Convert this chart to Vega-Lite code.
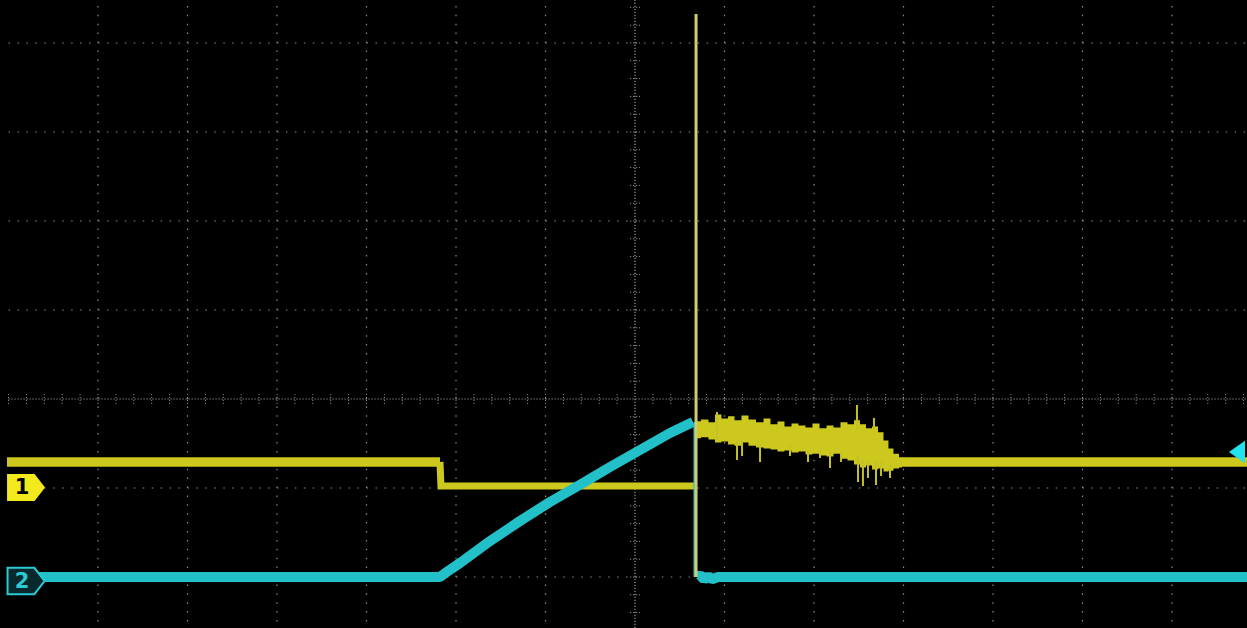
{
  "$schema": "https://vega.github.io/schema/vega-lite/v6.json",
  "width": 1247,
  "height": 628,
  "autosize": {"type": "none"},
  "padding": 0,
  "background": "#000000",
  "config": {"view": {"stroke": null}, "axis": {"disable": true}},
  "datasets": {
    "grid_v": [{"x": -6}, {"x": -5}, {"x": -4}, {"x": -3}, {"x": -2}, {"x": -1}, {"x": 1}, {"x": 2}, {"x": 3}, {"x": 4}, {"x": 5}, {"x": 6}],
    "grid_h": [{"y": -2}, {"y": -1}, {"y": 1}, {"y": 2}, {"y": 3}, {"y": 4}],
    "center": [{"x": 0, "y": 0}],
    "ticks_x": [{"x": -7.0}, {"x": -6.8}, {"x": -6.6}, {"x": -6.4}, {"x": -6.2}, {"x": -6.0}, {"x": -5.8}, {"x": -5.6}, {"x": -5.4}, {"x": -5.2}, {"x": -5.0}, {"x": -4.8}, {"x": -4.6}, {"x": -4.4}, {"x": -4.2}, {"x": -4.0}, {"x": -3.8}, {"x": -3.6}, {"x": -3.4}, {"x": -3.2}, {"x": -3.0}, {"x": -2.8}, {"x": -2.6}, {"x": -2.4}, {"x": -2.2}, {"x": -2.0}, {"x": -1.8}, {"x": -1.6}, {"x": -1.4}, {"x": -1.2}, {"x": -1.0}, {"x": -0.8}, {"x": -0.6}, {"x": -0.4}, {"x": -0.2}, {"x": 0.2}, {"x": 0.4}, {"x": 0.6}, {"x": 0.8}, {"x": 1.0}, {"x": 1.2}, {"x": 1.4}, {"x": 1.6}, {"x": 1.8}, {"x": 2.0}, {"x": 2.2}, {"x": 2.4}, {"x": 2.6}, {"x": 2.8}, {"x": 3.0}, {"x": 3.2}, {"x": 3.4}, {"x": 3.6}, {"x": 3.8}, {"x": 4.0}, {"x": 4.2}, {"x": 4.4}, {"x": 4.6}, {"x": 4.8}, {"x": 5.0}, {"x": 5.2}, {"x": 5.4}, {"x": 5.6}, {"x": 5.8}, {"x": 6.0}, {"x": 6.2}, {"x": 6.4}, {"x": 6.6}, {"x": 6.8}],
    "ticks_y": [{"y": -2.4}, {"y": -2.2}, {"y": -2.0}, {"y": -1.8}, {"y": -1.6}, {"y": -1.4}, {"y": -1.2}, {"y": -1.0}, {"y": -0.8}, {"y": -0.6}, {"y": -0.4}, {"y": -0.2}, {"y": 0.2}, {"y": 0.4}, {"y": 0.6}, {"y": 0.8}, {"y": 1.0}, {"y": 1.2}, {"y": 1.4}, {"y": 1.6}, {"y": 1.8}, {"y": 2.0}, {"y": 2.2}, {"y": 2.4}, {"y": 2.6}, {"y": 2.8}, {"y": 3.0}, {"y": 3.2}, {"y": 3.4}, {"y": 3.6}, {"y": 3.8}, {"y": 4.0}, {"y": 4.2}, {"y": 4.4}],
    "ch1_outer": [
      {"seg": "a", "x": -7.017, "y": -0.708},
      {"seg": "a", "x": -2.179, "y": -0.708},
      {"seg": "b", "x": 2.983, "y": -0.708},
      {"seg": "b", "x": 6.838, "y": -0.708}
    ],
    "ch1_mid": [
      {"x": -2.179, "y": -0.708},
      {"x": -2.168, "y": -0.978},
      {"x": 0.659, "y": -0.978}
    ],
    "ch1_band": [
      {"x": 0.693, "top": -0.250, "bot": -0.440},
      {"x": 0.782, "top": -0.230, "bot": -0.430},
      {"x": 0.860, "top": -0.262, "bot": -0.455},
      {"x": 0.927, "top": -0.175, "bot": -0.490},
      {"x": 1.006, "top": -0.218, "bot": -0.478},
      {"x": 1.073, "top": -0.195, "bot": -0.512},
      {"x": 1.151, "top": -0.240, "bot": -0.525},
      {"x": 1.229, "top": -0.185, "bot": -0.490},
      {"x": 1.307, "top": -0.230, "bot": -0.525},
      {"x": 1.397, "top": -0.262, "bot": -0.545},
      {"x": 1.475, "top": -0.218, "bot": -0.556},
      {"x": 1.553, "top": -0.285, "bot": -0.568},
      {"x": 1.631, "top": -0.252, "bot": -0.590},
      {"x": 1.709, "top": -0.308, "bot": -0.580},
      {"x": 1.788, "top": -0.275, "bot": -0.600},
      {"x": 1.866, "top": -0.297, "bot": -0.590},
      {"x": 1.944, "top": -0.320, "bot": -0.625},
      {"x": 2.022, "top": -0.275, "bot": -0.614},
      {"x": 2.101, "top": -0.330, "bot": -0.636},
      {"x": 2.179, "top": -0.297, "bot": -0.647},
      {"x": 2.257, "top": -0.320, "bot": -0.614},
      {"x": 2.335, "top": -0.262, "bot": -0.670},
      {"x": 2.413, "top": -0.285, "bot": -0.692},
      {"x": 2.480, "top": -0.240, "bot": -0.737},
      {"x": 2.547, "top": -0.285, "bot": -0.771},
      {"x": 2.615, "top": -0.330, "bot": -0.748},
      {"x": 2.682, "top": -0.308, "bot": -0.793},
      {"x": 2.749, "top": -0.375, "bot": -0.782},
      {"x": 2.804, "top": -0.466, "bot": -0.815},
      {"x": 2.860, "top": -0.556, "bot": -0.805},
      {"x": 2.916, "top": -0.614, "bot": -0.782},
      {"x": 2.983, "top": -0.655, "bot": -0.770}
    ],
    "ch1_spikes": [
      {"x": 0.916, "top": -0.146, "bot": -0.461},
      {"x": 1.140, "top": -0.461, "bot": -0.685},
      {"x": 1.196, "top": -0.461, "bot": -0.640},
      {"x": 1.397, "top": -0.506, "bot": -0.708},
      {"x": 1.732, "top": -0.517, "bot": -0.640},
      {"x": 1.933, "top": -0.573, "bot": -0.708},
      {"x": 2.067, "top": -0.573, "bot": -0.663},
      {"x": 2.179, "top": -0.596, "bot": -0.775},
      {"x": 2.302, "top": -0.596, "bot": -0.708},
      {"x": 2.480, "top": -0.067, "bot": -0.348},
      {"x": 2.492, "top": -0.629, "bot": -0.933},
      {"x": 2.547, "top": -0.685, "bot": -0.978},
      {"x": 2.603, "top": -0.685, "bot": -0.888},
      {"x": 2.670, "top": -0.213, "bot": -0.348},
      {"x": 2.693, "top": -0.708, "bot": -0.966},
      {"x": 2.749, "top": -0.708, "bot": -0.865},
      {"x": 2.849, "top": -0.742, "bot": -0.888}
    ],
    "ch2": [
      {"seg": "a", "x": -7.017, "y": -2.0},
      {"seg": "a", "x": -2.179, "y": -2.0},
      {"seg": "a", "x": -2.089, "y": -1.933},
      {"seg": "a", "x": -1.955, "y": -1.843},
      {"seg": "a", "x": -1.620, "y": -1.596},
      {"seg": "a", "x": -1.285, "y": -1.371},
      {"seg": "a", "x": -0.950, "y": -1.157},
      {"seg": "a", "x": -0.581, "y": -0.944},
      {"seg": "a", "x": -0.279, "y": -0.764},
      {"seg": "a", "x": 0.056, "y": -0.573},
      {"seg": "a", "x": 0.391, "y": -0.382},
      {"seg": "a", "x": 0.648, "y": -0.258},
      {"seg": "b", "x": 0.693, "y": -2.0},
      {"seg": "b", "x": 0.726, "y": -1.975},
      {"seg": "b", "x": 0.771, "y": -2.03},
      {"seg": "b", "x": 0.816, "y": -1.99},
      {"seg": "b", "x": 0.860, "y": -2.025},
      {"seg": "b", "x": 0.927, "y": -2.0},
      {"seg": "b", "x": 6.838, "y": -2.0}
    ],
    "ch2_drop": [{"x": 0.670, "top": -0.258, "bot": -2.0}],
    "spike": [{"x": 0.682, "top": 4.326, "bot": -2.0}],
    "markers": [
      {"ch": "1", "x": -6.804, "y": -0.994, "tx": -6.849},
      {"ch": "2", "x": -6.804, "y": -2.045, "tx": -6.849}
    ],
    "trigger": [{"x": 6.726, "y": -0.596}]
  },
  "layer": [
    {
      "data": {"name": "grid_v"},
      "mark": {"type": "rule", "color": "#8a8a8a", "strokeWidth": 1.2, "strokeDash": [1.5, 7.4]},
      "encoding": {
        "x": {"field": "x", "type": "quantitative", "scale": {"domain": [-7.095, 6.838], "nice": false, "zero": false}},
        "y": {"datum": -2.5, "type": "quantitative", "scale": {"domain": [-2.573, 4.483], "nice": false, "zero": false}},
        "y2": {"datum": 4.48}
      }
    },
    {
      "data": {"name": "grid_h"},
      "mark": {"type": "rule", "color": "#8a8a8a", "strokeWidth": 1.2, "strokeDash": [1.5, 7.45]},
      "encoding": {
        "y": {"field": "y", "type": "quantitative", "scale": {"domain": [-2.573, 4.483], "nice": false, "zero": false}},
        "x": {"datum": -7.0, "type": "quantitative", "scale": {"domain": [-7.095, 6.838], "nice": false, "zero": false}},
        "x2": {"datum": 6.838}
      }
    },
    {
      "data": {"name": "center"},
      "mark": {"type": "rule", "color": "#9a9a9a", "strokeWidth": 1.2, "strokeDash": [1.2, 1.8]},
      "encoding": {
        "x": {"field": "x", "type": "quantitative", "scale": {"domain": [-7.095, 6.838], "nice": false, "zero": false}},
        "y": {"datum": -2.573, "type": "quantitative", "scale": {"domain": [-2.573, 4.483], "nice": false, "zero": false}},
        "y2": {"datum": 4.483}
      }
    },
    {
      "data": {"name": "center"},
      "mark": {"type": "rule", "color": "#9a9a9a", "strokeWidth": 1.2, "strokeDash": [1.2, 1.8]},
      "encoding": {
        "y": {"field": "y", "type": "quantitative", "scale": {"domain": [-2.573, 4.483], "nice": false, "zero": false}},
        "x": {"datum": -7.0, "type": "quantitative", "scale": {"domain": [-7.095, 6.838], "nice": false, "zero": false}},
        "x2": {"datum": 6.838}
      }
    },
    {
      "data": {"name": "ticks_x"},
      "mark": {"type": "rule", "color": "#8a8a8a", "strokeWidth": 1, "strokeDash": [1.2, 1.8]},
      "encoding": {
        "x": {"field": "x", "type": "quantitative", "scale": {"domain": [-7.095, 6.838], "nice": false, "zero": false}},
        "y": {"datum": -0.056, "type": "quantitative", "scale": {"domain": [-2.573, 4.483], "nice": false, "zero": false}},
        "y2": {"datum": 0.056}
      }
    },
    {
      "data": {"name": "ticks_y"},
      "mark": {"type": "rule", "color": "#8a8a8a", "strokeWidth": 1, "strokeDash": [1.2, 1.8]},
      "encoding": {
        "y": {"field": "y", "type": "quantitative", "scale": {"domain": [-2.573, 4.483], "nice": false, "zero": false}},
        "x": {"datum": -0.056, "type": "quantitative", "scale": {"domain": [-7.095, 6.838], "nice": false, "zero": false}},
        "x2": {"datum": 0.056}
      }
    },
    {
      "data": {"name": "ch1_outer"},
      "mark": {"type": "line", "color": "#ccc81e", "strokeWidth": 9.5, "strokeJoin": "miter", "strokeCap": "butt"},
      "encoding": {
        "x": {"field": "x", "type": "quantitative", "scale": {"domain": [-7.095, 6.838], "nice": false, "zero": false}},
        "y": {"field": "y", "type": "quantitative", "scale": {"domain": [-2.573, 4.483], "nice": false, "zero": false}},
        "detail": {"field": "seg"}
      }
    },
    {
      "data": {"name": "ch1_mid"},
      "mark": {"type": "line", "color": "#ccc81e", "strokeWidth": 7, "strokeJoin": "miter", "strokeCap": "butt"},
      "encoding": {
        "x": {"field": "x", "type": "quantitative", "scale": {"domain": [-7.095, 6.838], "nice": false, "zero": false}},
        "y": {"field": "y", "type": "quantitative", "scale": {"domain": [-2.573, 4.483], "nice": false, "zero": false}}
      }
    },
    {
      "data": {"name": "ch1_band"},
      "mark": {"type": "area", "color": "#ccc81e", "interpolate": "step", "opacity": 1},
      "encoding": {
        "x": {"field": "x", "type": "quantitative", "scale": {"domain": [-7.095, 6.838], "nice": false, "zero": false}},
        "y": {"field": "top", "type": "quantitative", "scale": {"domain": [-2.573, 4.483], "nice": false, "zero": false}},
        "y2": {"field": "bot"}
      }
    },
    {
      "data": {"name": "ch1_spikes"},
      "mark": {"type": "rule", "color": "#c4c02a", "strokeWidth": 2},
      "encoding": {
        "x": {"field": "x", "type": "quantitative", "scale": {"domain": [-7.095, 6.838], "nice": false, "zero": false}},
        "y": {"field": "top", "type": "quantitative", "scale": {"domain": [-2.573, 4.483], "nice": false, "zero": false}},
        "y2": {"field": "bot"}
      }
    },
    {
      "data": {"name": "ch2"},
      "mark": {"type": "line", "color": "#22c0c8", "strokeWidth": 10, "strokeJoin": "bevel", "strokeCap": "butt"},
      "encoding": {
        "x": {"field": "x", "type": "quantitative", "scale": {"domain": [-7.095, 6.838], "nice": false, "zero": false}},
        "y": {"field": "y", "type": "quantitative", "scale": {"domain": [-2.573, 4.483], "nice": false, "zero": false}},
        "detail": {"field": "seg"}
      }
    },
    {
      "data": {"name": "ch2_drop"},
      "mark": {"type": "rule", "color": "#22c0c8", "strokeWidth": 3},
      "encoding": {
        "x": {"field": "x", "type": "quantitative", "scale": {"domain": [-7.095, 6.838], "nice": false, "zero": false}},
        "y": {"field": "top", "type": "quantitative", "scale": {"domain": [-2.573, 4.483], "nice": false, "zero": false}},
        "y2": {"field": "bot"}
      }
    },
    {
      "data": {"name": "spike"},
      "mark": {"type": "rule", "color": "#d0cc72", "strokeWidth": 3},
      "encoding": {
        "x": {"field": "x", "type": "quantitative", "scale": {"domain": [-7.095, 6.838], "nice": false, "zero": false}},
        "y": {"field": "top", "type": "quantitative", "scale": {"domain": [-2.573, 4.483], "nice": false, "zero": false}},
        "y2": {"field": "bot"}
      }
    },
    {
      "data": {"name": "markers"},
      "transform": [{"filter": "datum.ch === '1'"}],
      "mark": {"type": "point", "filled": true, "opacity": 1, "fill": "#f2ea1c", "strokeWidth": 0, "size": 1444, "shape": "M-1,-0.71L0.45,-0.71L1,0L0.45,0.71L-1,0.71Z"},
      "encoding": {
        "x": {"field": "x", "type": "quantitative", "scale": {"domain": [-7.095, 6.838], "nice": false, "zero": false}},
        "y": {"field": "y", "type": "quantitative", "scale": {"domain": [-2.573, 4.483], "nice": false, "zero": false}}
      }
    },
    {
      "data": {"name": "markers"},
      "transform": [{"filter": "datum.ch === '2'"}],
      "mark": {"type": "point", "filled": false, "opacity": 1, "fill": "#07282c", "fillOpacity": 1, "stroke": "#2ccad2", "strokeWidth": 2, "size": 1369, "shape": "M-1,-0.71L0.45,-0.71L1,0L0.45,0.71L-1,0.71Z"},
      "encoding": {
        "x": {"field": "x", "type": "quantitative", "scale": {"domain": [-7.095, 6.838], "nice": false, "zero": false}},
        "y": {"field": "y", "type": "quantitative", "scale": {"domain": [-2.573, 4.483], "nice": false, "zero": false}}
      }
    },
    {
      "data": {"name": "markers"},
      "mark": {"type": "text", "font": "DejaVu Sans", "fontWeight": "bold", "fontSize": 21, "align": "center", "baseline": "middle", "dy": 1},
      "encoding": {
        "x": {"field": "tx", "type": "quantitative", "scale": {"domain": [-7.095, 6.838], "nice": false, "zero": false}},
        "y": {"field": "y", "type": "quantitative", "scale": {"domain": [-2.573, 4.483], "nice": false, "zero": false}},
        "text": {"field": "ch"},
        "color": {"field": "ch", "type": "nominal", "scale": {"domain": ["1", "2"], "range": ["#000000", "#2ccad2"]}, "legend": null}
      }
    },
    {
      "data": {"name": "trigger"},
      "mark": {"type": "point", "filled": true, "opacity": 1, "fill": "#22e2f0", "strokeWidth": 0, "size": 256, "shape": "M-1,0L1,-1.4L1,1.4Z"},
      "encoding": {
        "x": {"field": "x", "type": "quantitative", "scale": {"domain": [-7.095, 6.838], "nice": false, "zero": false}},
        "y": {"field": "y", "type": "quantitative", "scale": {"domain": [-2.573, 4.483], "nice": false, "zero": false}}
      }
    }
  ]
}
